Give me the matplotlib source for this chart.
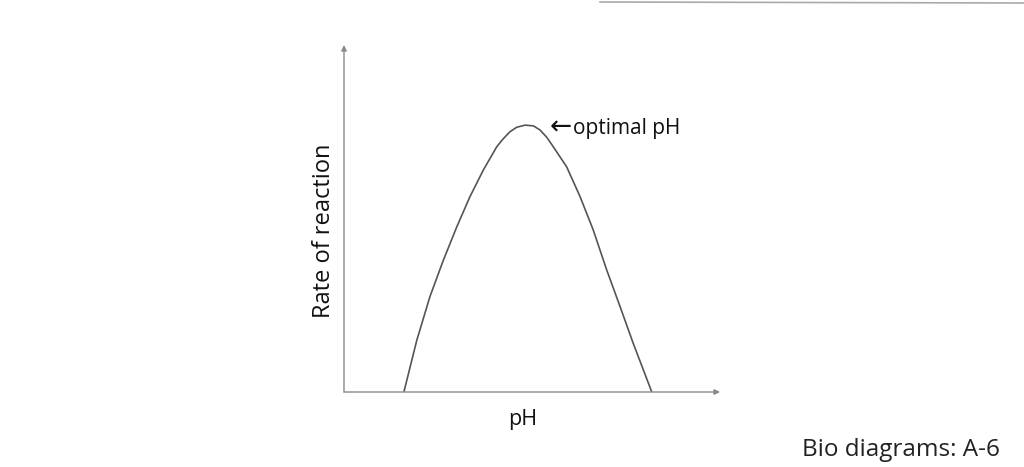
import numpy as np
import matplotlib
matplotlib.use("Agg")
import matplotlib.pyplot as plt
from matplotlib.lines import Line2D

plt.rcParams['font.family'] = ['Open Sans', 'DejaVu Sans']

# curve (pH vs rate, arbitrary units)
ph = [2.23, 2.71, 3.20, 3.70, 4.20, 4.69, 5.19, 5.69, 5.92, 6.18, 6.43, 6.74,
      7.05, 7.30, 7.55, 7.79, 8.29, 8.79, 9.28, 9.78, 10.28, 10.77, 11.46]
rate = [0, 14.9, 27.5, 38.0, 47.6, 56.3, 64.0, 70.7, 72.9, 75.0, 76.3, 76.9,
        76.7, 75.5, 73.4, 70.7, 64.9, 56.3, 46.7, 35.2, 24.6, 14.0, 0]
opt_ph = 6.74
opt_rate = 76.9

fig = plt.figure(figsize=(10.24, 4.67), dpi=100)
ax = fig.add_axes([344/1024, 1-392/467, 376/1024, 347/467])
ax.set_xlim(0, 14)
ax.set_ylim(0, 100)
for s in ax.spines.values():
    s.set_visible(False)
ax.set_xticks([])
ax.set_yticks([])

# axes with arrow heads
ax.annotate('', xy=(1, 0), xytext=(0, 0), xycoords='axes fraction',
            arrowprops=dict(arrowstyle='-|>', color='#8a8a8a', lw=1.0,
                            mutation_scale=8, shrinkA=0, shrinkB=0))
ax.annotate('', xy=(0, 1), xytext=(0, 0), xycoords='axes fraction',
            arrowprops=dict(arrowstyle='-|>', color='#8a8a8a', lw=1.0,
                            mutation_scale=8, shrinkA=0, shrinkB=0))

ax.plot(ph, rate, color='#555555', lw=1.2, solid_joinstyle='round')

# label next to the peak: bigger arrow glyph, then the text
ax.annotate('\u2190', xy=(opt_ph, opt_rate), xytext=(opt_ph + 0.92, opt_rate - 0.6),
            textcoords='data', fontsize=19, color='#111111', va='center', ha='left',
            family=['DejaVu Sans'])
ax.text(opt_ph + 1.79, opt_rate - 0.9, 'optimal pH', fontsize=15, color='#111111',
        va='center', ha='left')

fig.text(523/1024, 1-419/467, 'pH', fontsize=15.5, color='#111111', ha='center', va='center')
fig.text(324/1024, 1-231/467, 'Rate of reaction', fontsize=17, color='#111111',
         ha='center', va='center', rotation=90)

fig.text(1000/1024, 1-450/467, 'Bio diagrams: A-6', fontsize=17.5, color='#222222',
         ha='right', va='center')

# faint scan line at the top right
fig.add_artist(Line2D([600/1024, 1.0], [1-2/467, 1-3/467], transform=fig.transFigure,
                      color='#aaaaaa', lw=1.2))

fig.savefig('out.png', dpi=100, facecolor='white')
